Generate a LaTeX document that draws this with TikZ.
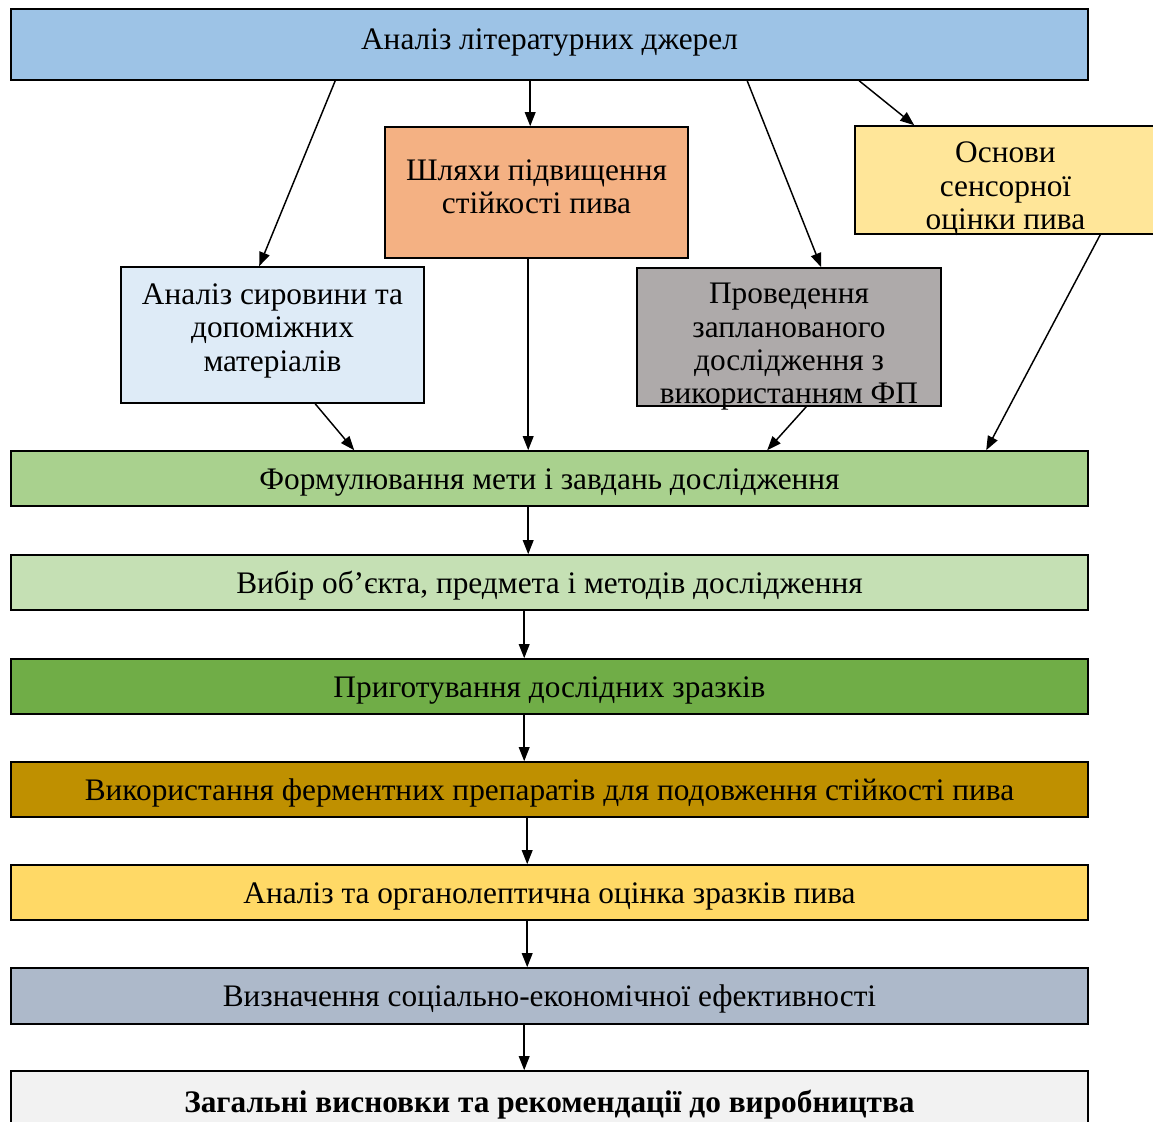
\documentclass[tikz,border=0pt]{standalone}
\usepackage{fontspec}
\setmainfont{Liberation Serif}
\usetikzlibrary{arrows.meta,calc}
\definecolor{cTop}{HTML}{9DC3E6}
\definecolor{cSh}{HTML}{F4B183}
\definecolor{cOs}{HTML}{FFE699}
\definecolor{cAs}{HTML}{DEEBF7}
\definecolor{cPr}{HTML}{AEAAAA}
\definecolor{cG1}{HTML}{A9D18E}
\definecolor{cG2}{HTML}{C5E0B4}
\definecolor{cG3}{HTML}{70AD47}
\definecolor{cGold}{HTML}{BF9000}
\definecolor{cYel}{HTML}{FFD966}
\definecolor{cSl}{HTML}{ADB9CA}
\definecolor{cLast}{HTML}{F2F2F2}
\newcommand\shtxt[2]{\raisebox{#1}[\height][\depth]{\begin{tabular}{@{}c@{}}#2\end{tabular}}}
\begin{document}
\begin{tikzpicture}[x=0.75pt,y=-0.75pt,
  box/.style={draw=black,line width=1.2pt,inner sep=0pt,align=center,
    font=\fontsize{23.5pt}{25pt}\selectfont},
  wide/.style={box,minimum width=807.75pt,minimum height=41.25pt},
  arr/.style={line width=1.1pt,-{Triangle[length=10.5pt,width=8pt]}}]
\useasboundingbox (0,0) rectangle (1153,1121);
\clip (0,0) rectangle (1153,1121);
\fill[white] (0,0) rectangle (1153,1121);

\node[box,fill=cTop,minimum width=807.75pt,minimum height=53.25pt] (lit) at (549.5,44.5) {\shtxt{1.5pt}{Аналіз літературних джерел}};
\node[box,fill=cSh,minimum width=227.25pt,minimum height=98.25pt] (sh) at (536.5,192.5) {\shtxt{1.8pt}{Шляхи підвищення\\стійкості пива}};
\node[box,fill=cOs,minimum width=225.75pt,minimum height=81pt] (os) at (1005.5,180) {\shtxt{-7pt}{Основи\\сенсорної\\оцінки пива}};
\node[box,fill=cAs,minimum width=227.25pt,minimum height=102pt] (as) at (272.5,335) {\shtxt{3pt}{Аналіз сировини та\\допоміжних\\матеріалів}};
\node[box,fill=cPr,minimum width=228pt,minimum height=103.5pt] (pr) at (789,337) {\shtxt{-7.5pt}{Проведення\\запланованого\\дослідження з\\використанням ФП}};
\node[wide,fill=cG1] (g1) at (549.5,478.5) {\shtxt{-3pt}{Формулювання мети і завдань дослідження}};
\node[wide,fill=cG2] (g2) at (549.5,582.5) {\shtxt{-3pt}{Вибір об’єкта, предмета і методів дослідження}};
\node[wide,fill=cG3] (g3) at (549.5,686.5) {\shtxt{-3pt}{Приготування дослідних зразків}};
\node[wide,fill=cGold] (g4) at (549.5,789.5) {\shtxt{-3pt}{Використання ферментних препаратів для подовження стійкості пива}};
\node[wide,fill=cYel] (g5) at (549.5,892.5) {\shtxt{-3pt}{Аналіз та органолептична оцінка зразків пива}};
\node[wide,fill=cSl,minimum height=42pt] (g6) at (549.5,996) {\shtxt{-3pt}{Визначення соціально-економічної ефективності}};
\node[wide,fill=cLast,minimum height=48pt,font=\fontsize{23.5pt}{25pt}\selectfont\bfseries] (g7) at (549.5,1103) {\shtxt{-2pt}{Загальні висновки та рекомендації до виробництва}};

\draw[arr] ($(lit.south west)+(325,0)$) -- ($(as.north west)+(139,0)$);
\draw[arr] ($(lit.south west)+(520,0)$) -- ($(sh.north west)+(146,0)$);
\draw[arr] ($(lit.south west)+(737,0)$) -- ($(pr.north west)+(185,0)$);
\draw[arr] ($(lit.south west)+(849,0)$) -- ($(os.north west)+(60,0)$);
\draw[arr] ($(as.south west)+(195,0)$) -- ($(g1.north west)+(344,0)$);
\draw[arr] ($(sh.south west)+(144,0)$) -- ($(g1.north west)+(518,0)$);
\draw[arr] ($(pr.south west)+(170,0)$) -- ($(g1.north west)+(757,0)$);
\draw[arr] ($(os.south west)+(246,0)$) -- ($(g1.north west)+(976,0)$);
\draw[arr] ($(g1.south west)+(518,0)$) -- ($(g2.north west)+(518,0)$);
\draw[arr] ($(g2.south west)+(514,0)$) -- ($(g3.north west)+(514,0)$);
\draw[arr] ($(g3.south west)+(514,0)$) -- ($(g4.north west)+(514,0)$);
\draw[arr] ($(g4.south west)+(517,0)$) -- ($(g5.north west)+(517,0)$);
\draw[arr] ($(g5.south west)+(517,0)$) -- ($(g6.north west)+(517,0)$);
\draw[arr] ($(g6.south west)+(514,0)$) -- ($(g7.north west)+(514,0)$);
\end{tikzpicture}
\end{document}
